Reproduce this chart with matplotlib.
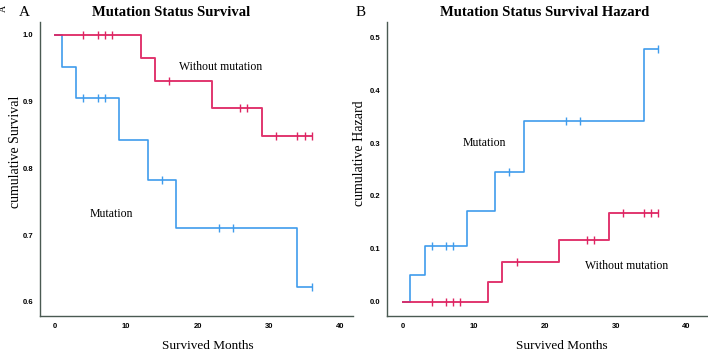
import numpy as np
import matplotlib
matplotlib.use("Agg")
import matplotlib.pyplot as plt

# ---- data ----
mut_times = [0, 1, 3, 9, 13, 17, 34, 36]
mut_surv = [1.0, 0.952, 0.905, 0.843, 0.782, 0.711, 0.622, 0.622]
mut_haz = [0.0, 0.050, 0.105, 0.172, 0.245, 0.342, 0.477, 0.477]
mut_censor = [4, 6, 7, 15, 23, 25, 36]

wo_times = [0, 12, 14, 22, 29, 36]
wo_surv = [1.0, 0.965, 0.930, 0.890, 0.848, 0.848]
wo_haz = [0.0, 0.037, 0.075, 0.117, 0.167, 0.167]
wo_censor = [4, 6, 7, 8, 16, 26, 27, 31, 34, 35, 36]

x_ticks = [0, 10, 20, 30, 40]
surv_ticks = [0.6, 0.7, 0.8, 0.9, 1.0]
haz_ticks = [0.0, 0.1, 0.2, 0.3, 0.4, 0.5]

BLUE = "#3f9cec"
RED = "#de2462"
SPINE = "#4a5a52"
SERIF = "Liberation Serif"


def step_value(times, vals, t):
    idx = np.searchsorted(times, t, side="right") - 1
    return np.asarray(vals)[idx]


fig = plt.figure(figsize=(7.08, 3.54), dpi=100)
W, H = 708, 354


def make_ax(l, r):
    b, t = 316, 22
    return fig.add_axes([l / W, (H - b) / H, (r - l) / W, (b - t) / H])


axA = make_ax(40, 353)
axB = make_ax(387, 707)


def draw(ax, y_mut, y_wo):
    ax.step(mut_times, y_mut, where="post", color=BLUE, lw=1.2, zorder=2)
    ax.step(wo_times, y_wo, where="post", color=RED, lw=1.4, alpha=0.92, zorder=3)
    ax.plot(mut_censor, step_value(mut_times, y_mut, mut_censor), ls="none",
            marker="|", ms=5.5, mew=1.0, color=BLUE, zorder=2)
    ax.plot(wo_censor, step_value(wo_times, y_wo, wo_censor), ls="none",
            marker="|", ms=5.5, mew=1.0, color=RED, zorder=3)


def style(ax, yticks):
    for s in ["top", "right"]:
        ax.spines[s].set_visible(False)
    for s in ["left", "bottom"]:
        ax.spines[s].set_color(SPINE)
        ax.spines[s].set_linewidth(1.0)
    ax.set_xticks(x_ticks)
    ax.set_yticks(yticks)
    ax.set_xticklabels([str(v) for v in x_ticks])
    ax.set_yticklabels([f"{v:.1f}" for v in yticks])
    ax.tick_params(length=0, labelsize=5.5, pad=5)
    for lab in ax.get_xticklabels() + ax.get_yticklabels():
        lab.set_fontfamily("Liberation Sans")
        lab.set_fontweight("bold")


draw(axA, mut_surv, wo_surv)
style(axA, surv_ticks)
axA.set_xlim(-2.1, 41.8)
axA.set_ylim(0.579, 1.019)

draw(axB, mut_haz, wo_haz)
style(axB, haz_ticks)
axB.set_xlim(-2.3, 42.9)
axB.set_ylim(-0.027, 0.529)

# titles
axA.text(0.42, 1.034, "Mutation Status Survival", transform=axA.transAxes,
         ha="center", va="center", fontsize=10.5, fontweight="bold", family=SERIF)
axB.text(0.492, 1.034, "Mutation Status Survival Hazard", transform=axB.transAxes,
         ha="center", va="center", fontsize=10.5, fontweight="bold", family=SERIF)

# panel letters
fig.text(24 / W, 1 - 13 / H, "A", ha="center", va="center", fontsize=11, family=SERIF)
fig.text(361 / W, 1 - 13 / H, "B", ha="center", va="center", fontsize=11, family=SERIF)
fig.text(3 / W, 1 - 9 / H, "A", ha="center", va="center", fontsize=7, family=SERIF,
         rotation=90)

# axis labels
axA.set_ylabel("cumulative Survival", fontsize=10, family=SERIF)
axA.yaxis.set_label_coords(-0.058, 0.558)
axB.set_ylabel("cumulative Hazard", fontsize=10, family=SERIF)
axB.yaxis.set_label_coords(-0.066, 0.555)
axA.set_xlabel("Survived Months", fontsize=9.5, family=SERIF)
axA.xaxis.set_label_coords(0.536, -0.082)
axB.set_xlabel("Survived Months", fontsize=9.5, family=SERIF)
axB.xaxis.set_label_coords(0.546, -0.082)


def px_text(x, y, s):
    fig.text(x / W, 1 - y / H, s, ha="center", va="center", fontsize=8.5, family=SERIF)


px_text(221, 67, "Without mutation")
px_text(111, 214, "Mutation")
px_text(484, 143, "Mutation")
px_text(627, 266, "Without mutation")

fig.savefig("out.png", dpi=100)
